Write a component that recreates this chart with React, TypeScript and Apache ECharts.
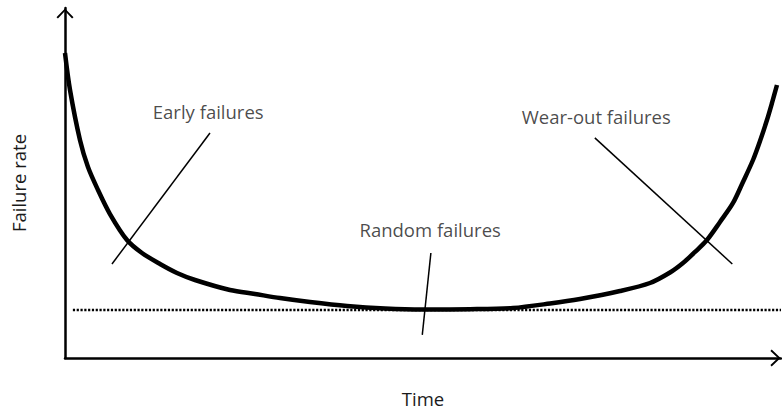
import React, { useEffect, useRef } from "react";
import * as echarts from "echarts";

// Bathtub curve: [time, failure rate] in arbitrary 0–100 units
const curveX = [0, 0.7, 2.09, 3.21, 4.61, 6.28, 8.66, 10.75, 13.27, 15.64, 18.16, 23.04, 26.54, 30.03, 34.22, 39.39, 44.69, 50.0, 56.56, 62.57, 67.74, 71.93, 77.51, 81.7, 84.5, 86.31, 87.99, 89.66, 91.48, 93.3, 94.69, 96.09, 97.07, 98.04, 98.74, 99.44];
const curveY = [87.14, 76.57, 62.29, 54.57, 48.0, 41.14, 33.71, 30.0, 26.86, 24.29, 22.29, 19.43, 18.29, 17.14, 16.0, 14.86, 14.14, 13.86, 13.94, 14.29, 15.57, 16.86, 19.14, 21.43, 24.43, 27.14, 30.29, 33.71, 38.86, 44.29, 50.29, 56.57, 62.0, 68.0, 72.86, 78.0];

// constant random-failure baseline
const baselineX = [1.1, 100];
const baselineY = [13.7, 13.7];

// annotation labels and their leader lines
const labelNames = ["Early failures", "Wear-out failures", "Random failures"];
const labelX = [20.0, 74.2, 51.0];
const labelY = [70.3, 69.1, 36.6];
const leaderStartX = [20.25, 74.0, 51.1];
const leaderStartY = [64.3, 62.9, 30.0];
const leaderEndX = [6.56, 93.2, 49.9];
const leaderEndY = [26.86, 26.86, 6.6];

const axisTitleX = "Time";
const axisTitleY = "Failure rate";

const FONT = "'Open Sans', 'Noto Sans', sans-serif";
const FONT_SIZE = 18.5;
const CHEVRON = "path://M0,10.5 L10,0 L20,10.5 L18.3,12 L10,3.2 L1.7,12 Z";

export default function App() {
  const ref = useRef<HTMLDivElement>(null);
  useEffect(() => {
    if (!ref.current) return;
    const chart = echarts.init(ref.current, undefined, { renderer: "svg" });
    const axisLine = {
      show: true,
      symbol: ["none", CHEVRON],
      symbolSize: [17, 11],
      symbolOffset: [0, -5.5],
      lineStyle: { color: "#000", width: 2.5 },
    };
    const leaders = labelNames.map((n, i) => ({
      type: "line",
      name: n + " leader",
      data: [
        [leaderStartX[i], leaderStartY[i]],
        [leaderEndX[i], leaderEndY[i]],
      ],
      showSymbol: false,
      lineStyle: { color: "#000", width: 1.5 },
      z: 3,
    }));
    chart.setOption({
      animation: false,
      grid: { left: 65, right: 1, top: 8, bottom: 56, outerBoundsMode: "none", containLabel: false },
      xAxis: {
        type: "value",
        min: 0,
        max: 100,
        name: axisTitleX,
        nameLocation: "middle",
        nameGap: 31,
        nameTextStyle: { fontFamily: FONT, fontSize: FONT_SIZE, color: "#1a1a1a" },
        axisLine,
        axisTick: { show: false },
        axisLabel: { show: false },
        splitLine: { show: false },
      },
      yAxis: {
        type: "value",
        min: 0,
        max: 100,
        name: axisTitleY,
        nameLocation: "middle",
        nameGap: 37,
        nameRotate: 90,
        nameTextStyle: { fontFamily: FONT, fontSize: FONT_SIZE, color: "#1a1a1a" },
        axisLine,
        axisTick: { show: false },
        axisLabel: { show: false },
        splitLine: { show: false },
      },
      series: [
        {
          type: "line",
          name: "Baseline",
          data: baselineX.map((x, i) => [x, baselineY[i]]),
          showSymbol: false,
          lineStyle: { color: "#000", width: 2.5, type: [2.2, 1.6] },
          z: 2,
        },
        {
          type: "line",
          name: "Failure rate",
          data: curveX.map((x, i) => [x, curveY[i]]),
          smooth: 0.3,
          showSymbol: false,
          lineStyle: { color: "#000", width: 4.5 },
          z: 4,
        },
        ...leaders,
        {
          type: "scatter",
          name: "Labels",
          symbolSize: 0,
          data: labelNames.map((n, i) => ({ name: n, value: [labelX[i], labelY[i]] })),
          label: {
            show: true,
            position: "inside",
            formatter: (p: any) => p.name,
            fontFamily: FONT,
            fontSize: FONT_SIZE,
            color: "#1a1a1a",
          },
          z: 5,
        },
      ],
    });
    return () => chart.dispose();
  }, []);
  return <div ref={ref} style={{ width: 782, height: 414, position: "absolute", left: 0, top: 0 }} />;
}
